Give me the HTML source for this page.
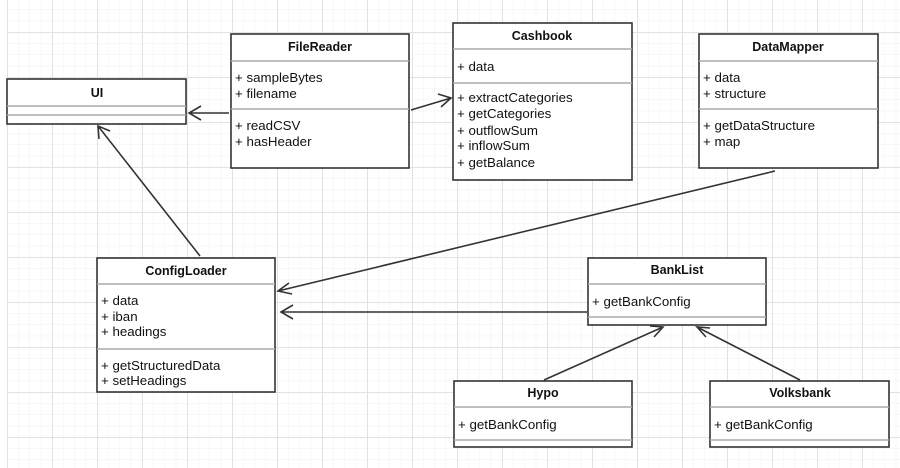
<!DOCTYPE html>
<html><head><meta charset="utf-8"><style>
html,body{margin:0;padding:0;background:#fff}
svg{display:block}
text{font-family:"Liberation Sans",Arial,sans-serif;font-size:13.3px;fill:#111}
.t{font-weight:bold;text-anchor:middle;font-size:12.5px}
</style></head><body>
<svg width="900" height="468" viewBox="0 0 900 468" xmlns="http://www.w3.org/2000/svg">
<defs>
<pattern id="mi" x="7" y="-13" width="11.25" height="11.25" patternUnits="userSpaceOnUse">
<path d="M0 0H11.25M0 0V11.25" stroke="#f0f0f0" stroke-width="1" fill="none"/>
</pattern>
<pattern id="ma" x="7" y="32" width="45" height="45" patternUnits="userSpaceOnUse">
<path d="M0 0.5H45M0.5 0V45" stroke="#e2e2e2" stroke-width="1" fill="none"/>
</pattern>
</defs>
<rect x="7" y="0" width="893" height="468" fill="url(#mi)"/>
<rect x="7" y="0" width="893" height="468" fill="url(#ma)"/>

<g stroke="#333" stroke-width="1.6" fill="none">
<path d="M229 113H189M201 106L189 113L201 120"/>
<path d="M411 110L451 98M438 94L451 98L441 107"/>
<path d="M200 256L98 126M99 139L98 126L110 131"/>
<path d="M775 171L278 291M289 283L278 291L292 294"/>
<path d="M587 312H281M293 305L281 312L293 319"/>
<path d="M544 380L663 327M650 326L663 327L654 337"/>
<path d="M800 380L697 327M706 337L697 327L710 328"/>
</g>

<g fill="#fff" stroke="#333" stroke-width="1.6">
<rect x="7" y="79" width="179" height="45"/>
<rect x="231" y="34" width="178" height="134"/>
<rect x="453" y="23" width="179" height="157"/>
<rect x="699" y="34" width="179" height="134"/>
<rect x="97" y="258" width="178" height="134"/>
<rect x="588" y="258" width="178" height="67"/>
<rect x="454" y="381" width="178" height="66"/>
<rect x="710" y="381" width="179" height="66"/>
</g>
<g stroke="#aaa" stroke-width="1.4">
<path d="M7 106H186M7 115H186"/>
<path d="M231 61H409M231 109H409"/>
<path d="M453 49H632M453 83H632"/>
<path d="M699 61H878M699 109H878"/>
<path d="M97 284H275M97 349H275"/>
<path d="M588 284H766M588 317H766"/>
<path d="M454 407H632M454 440H632"/>
<path d="M710 407H889M710 440H889"/>
</g>

<text class="t" x="97" y="97">UI</text>

<text class="t" x="320" y="51">FileReader</text>
<text x="235" y="82">+ sampleBytes</text>
<text x="235" y="98">+ filename</text>
<text x="235" y="130">+ readCSV</text>
<text x="235" y="146">+ hasHeader</text>

<text class="t" x="542" y="40">Cashbook</text>
<text x="457" y="71">+ data</text>
<text x="457" y="102">+ extractCategories</text>
<text x="457" y="118">+ getCategories</text>
<text x="457" y="135">+ outflowSum</text>
<text x="457" y="150">+ inflowSum</text>
<text x="457" y="167">+ getBalance</text>

<text class="t" x="788" y="51">DataMapper</text>
<text x="703" y="82">+ data</text>
<text x="703" y="98">+ structure</text>
<text x="703" y="130">+ getDataStructure</text>
<text x="703" y="146">+ map</text>

<text class="t" x="186" y="275">ConfigLoader</text>
<text x="101" y="305">+ data</text>
<text x="101" y="321">+ iban</text>
<text x="101" y="336">+ headings</text>
<text x="101" y="370">+ getStructuredData</text>
<text x="101" y="385">+ setHeadings</text>

<text class="t" x="677" y="274">BankList</text>
<text x="592" y="306">+ getBankConfig</text>

<text class="t" x="543" y="397">Hypo</text>
<text x="458" y="429">+ getBankConfig</text>

<text class="t" x="800" y="397">Volksbank</text>
<text x="714" y="429">+ getBankConfig</text>
</svg>
</body></html>
